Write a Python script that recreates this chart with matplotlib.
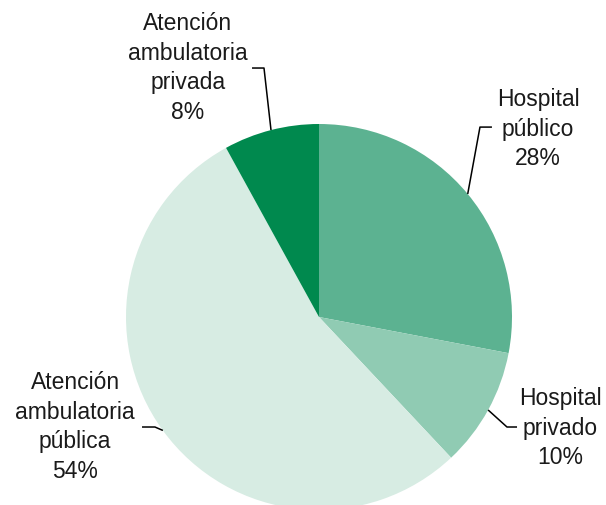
import matplotlib.pyplot as plt
import numpy as np

labels = ['Hospital\npúblico', 'Hospital\nprivado', 'Atención\nambulatoria\npública', 'Atención\nambulatoria\nprivada']
shares = [28, 10, 54, 8]
colors = ['#5cb291', '#90cbb3', '#d7ece3', '#00894e']

# label layout: text centre, elbow of leader line, end of leader line (data units, radius = 1)
label_pos = [(1.135, 0.979), (1.249, -0.570), (-1.264, -0.565), (-0.679, 1.295)]
elbows = [(0.834, 0.984), (0.974, -0.570), (-0.850, -0.570), (-0.285, 1.290)]
ends = [(0.896, 0.984), (1.026, -0.570), (-0.917, -0.570), (-0.347, 1.290)]

plt.rcParams['font.family'] = ['Liberation Sans', 'DejaVu Sans']

fig = plt.figure(figsize=(6.06, 5.06), dpi=100)
ax = fig.add_axes([0, 0, 1, 1])

wedges, _ = ax.pie(shares, colors=colors, startangle=90, counterclock=False,
                   radius=1, center=(0, 0), wedgeprops=dict(linewidth=0))

for w, lab, share, pos, elb, end in zip(wedges, labels, shares, label_pos, elbows, ends):
    ang = np.deg2rad((w.theta1 + w.theta2) / 2)
    ex, ey = np.cos(ang), np.sin(ang)
    ax.plot([ex, elb[0], end[0]], [ey, elb[1], end[1]], color='black', lw=1.1,
            solid_capstyle='butt')
    ax.text(pos[0], pos[1], f'{lab}\n{share}%', ha='center', va='center',
            fontsize=16.5, color='#1a1a1a', linespacing=1.36)

ax.set_xlim(-319 / 193, (606 - 319) / 193)
ax.set_ylim(-(506 - 318) / 193, 318 / 193)
ax.set_aspect('equal')
ax.axis('off')

fig.savefig('out.png', dpi=100)
